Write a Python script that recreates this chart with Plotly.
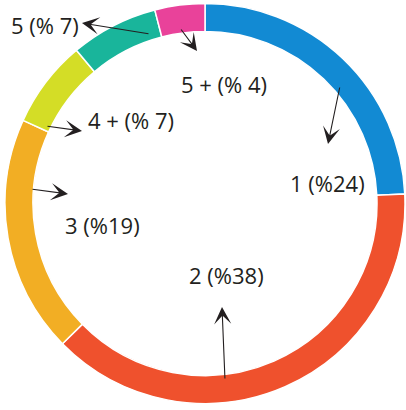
import plotly.graph_objects as go

# ---- data ----
categories = ["1", "2", "3", "4 +", "5", "5 +"]
values = [24, 38, 19, 7, 7, 4]
labels_text = ["1 (%24)", "2 (%38)", "3 (%19)", "4 + (% 7)", "5 (% 7)", "5 + (% 4)"]
colors = ["#128ad3", "#ef512d", "#f2ae24", "#d4dd26", "#19b59b", "#e9429a"]

# label positions (pixel frame of 406x410 page) and arrow tail/head
label_pos = [(327, 183), (226, 275), (102, 225), (131, 120), (45, 25), (224, 84)]
arrow_tail = [(340, 86), (225, 380), (31, 189), (46, 126), (150, 34), (180, 28)]
arrow_head = [(328, 144), (222, 307), (68, 194), (82, 131), (82, 23), (197, 51)]

W, H = 406, 410
fig = go.Figure()
fig.add_trace(go.Pie(
    labels=categories, values=values, sort=False, direction="clockwise",
    rotation=0, hole=0.86, textinfo="none", hoverinfo="label+percent",
    marker=dict(colors=colors, line=dict(color="white", width=1.5)),
    domain=dict(x=[5 / W, 405 / W], y=[1 - 405 / H, 1 - 2 / H]),
    showlegend=False,
))
fig.add_trace(go.Scatter(x=[None], y=[None], showlegend=False, hoverinfo="skip"))

ann = []
txtcol = "#231f20"
for t, (lx, ly) in zip(labels_text, label_pos):
    ann.append(dict(x=lx, y=ly, xref="x", yref="y", text=t, showarrow=False,
                    xanchor="center", yanchor="middle",
                    font=dict(family="Open Sans", size=22, color=txtcol)))
for (tx, ty), (hx, hy) in zip(arrow_tail, arrow_head):
    ann.append(dict(x=hx, y=hy, xref="x", yref="y", ax=tx, ay=ty,
                    axref="x", ayref="y", text="", showarrow=True,
                    arrowhead=3, arrowsize=2.6, arrowwidth=1.1,
                    arrowcolor=txtcol, standoff=0, startstandoff=0))

fig.update_layout(
    width=W, height=H, margin=dict(l=0, r=0, t=0, b=0),
    paper_bgcolor="white", plot_bgcolor="rgba(0,0,0,0)",
    xaxis=dict(range=[0, W], visible=False, fixedrange=True),
    yaxis=dict(range=[H, 0], visible=False, fixedrange=True),
    annotations=ann,
)
fig.write_html("out.html", config={"displayModeBar": False},
               post_script="document.body.style.margin='0px';document.body.style.overflow='hidden';")
